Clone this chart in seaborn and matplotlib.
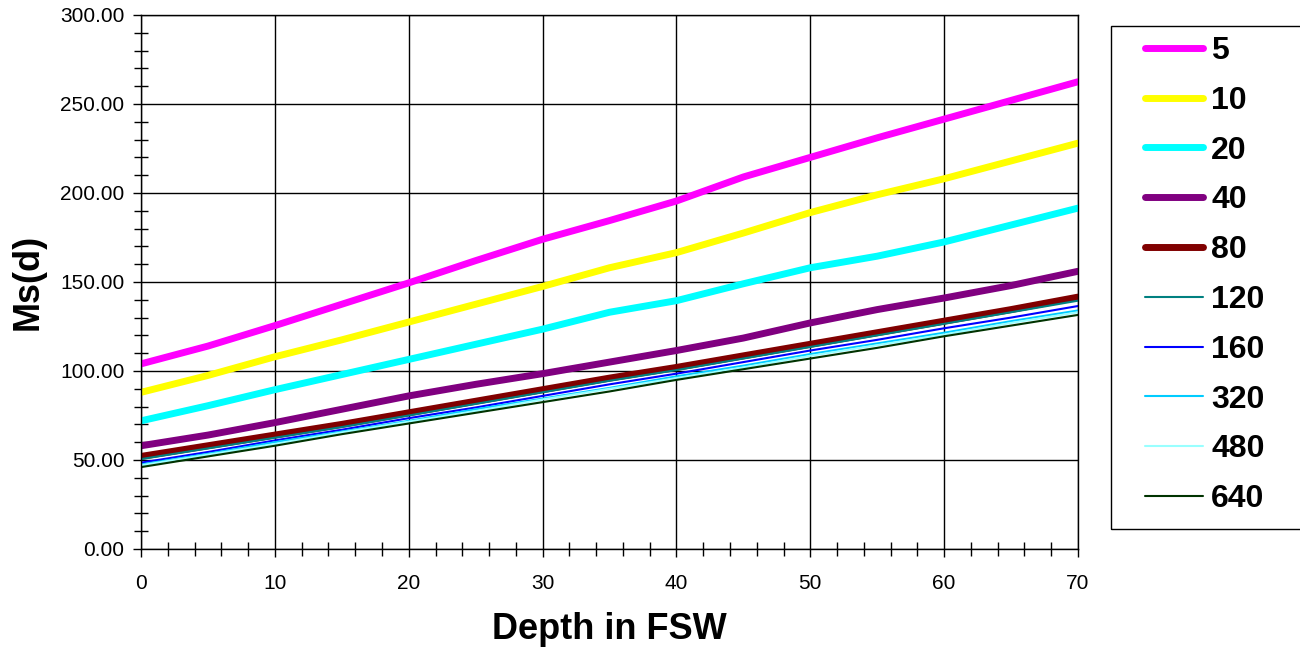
import matplotlib
matplotlib.use("Agg")
import matplotlib.pyplot as plt
import pandas as pd
import seaborn as sns
from matplotlib.patches import Rectangle
from matplotlib.ticker import MultipleLocator, FormatStrFormatter

# depth in feet of sea water
depth = [0, 5, 10, 15, 20, 25, 30, 35, 40, 45, 50, 55, 60, 65, 70]

# Ms(d) per compartment half-time
ms_5 = [104, 114, 125.5, 137.5, 149.5, 162, 174, 184.5, 195.5, 209, 220, 231, 241.5, 252, 262.5]
ms_10 = [88, 97.5, 108, 117.5, 127.5, 137.5, 147.5, 158, 166.5, 177.5, 189, 199, 208, 218, 228]
ms_20 = [72, 80.5, 89.5, 98, 106.5, 115, 123.5, 133, 139.5, 149, 158, 164.5, 172.5, 182, 191.5]
ms_40 = [58, 64, 71, 78.5, 86, 92.5, 98.5, 105, 111.5, 118.5, 127, 134.5, 141, 148, 156]
ms_80 = [52, 58, 64, 70, 76.5, 83, 89.5, 96, 102, 108.5, 115, 121.5, 128, 134.5, 141.5]
ms_120 = [50.5, 56.5, 62.5, 68.5, 75, 81.5, 88, 94.5, 100.5, 107, 113.5, 120, 126.5, 133, 139.5]
ms_160 = [48.5, 54.5, 61, 67, 73.5, 79.5, 86, 92.5, 98.5, 105, 111.5, 117.5, 124, 130, 136.5]
ms_320 = [47.5, 53.5, 60, 66, 72, 78.5, 84.5, 90.5, 97, 103, 109.5, 115.5, 121.5, 128, 134]
ms_480 = [47, 53, 59, 65.5, 71.5, 77.5, 84, 90, 96, 102, 108.5, 114.5, 120.5, 127, 133]
ms_640 = [46, 52, 58, 64.5, 70.5, 76.5, 82.5, 88.5, 95, 101, 107, 113, 119.5, 125.5, 131.5]

half_times = ["5", "10", "20", "40", "80", "120", "160", "320", "480", "640"]
series = [ms_5, ms_10, ms_20, ms_40, ms_80, ms_120, ms_160, ms_320, ms_480, ms_640]
colors = ["#FF00FF", "#FFFF00", "#00FFFF", "#800080", "#800000",
          "#008080", "#0000FF", "#00CCFF", "#99FFFF", "#003300"]
widths = [5, 5, 5, 5, 5, 1.5, 1.5, 1.5, 1.5, 1.5]

rows = []
for label, values in zip(half_times, series):
    for d, v in zip(depth, values):
        rows.append({"depth": d, "ms": v, "half_time": label})
df = pd.DataFrame(rows)

sns.set_style("white")
plt.rcParams["font.family"] = ["Liberation Sans", "DejaVu Sans"]
plt.rcParams["text.color"] = "black"
plt.rcParams["axes.labelcolor"] = "black"
plt.rcParams["xtick.color"] = "black"
plt.rcParams["ytick.color"] = "black"

fig = plt.figure(figsize=(13, 6.49), dpi=100)
ax = fig.add_axes([0.1085, 0.1541, 0.7207, 0.8228])

for label, color, lw in zip(half_times, colors, widths):
    sns.lineplot(data=df[df["half_time"] == label], x="depth", y="ms", color=color,
                 linewidth=lw, label=label, ax=ax, solid_capstyle="round")

ax.set_xlim(0, 70)
ax.set_ylim(0, 300)
ax.xaxis.set_major_locator(MultipleLocator(10))
ax.xaxis.set_minor_locator(MultipleLocator(2))
ax.yaxis.set_major_locator(MultipleLocator(50))
ax.yaxis.set_minor_locator(MultipleLocator(10))
ax.yaxis.set_major_formatter(FormatStrFormatter("%.2f"))
ax.grid(True, which="major", color="black", linewidth=1)
ax.set_axisbelow(True)
ax.tick_params(which="major", direction="out", length=6, width=1, labelsize=15)
ax.tick_params(which="minor", direction="inout", length=10, width=1)
ax.tick_params(axis="x", which="major", pad=12)
ax.tick_params(axis="y", which="major", pad=6)
ax.tick_params(axis="x", which="both", bottom=True)
ax.tick_params(axis="y", which="both", left=True)
for spine in ax.spines.values():
    spine.set_color("black")
    spine.set_linewidth(1)

ax.set_xlabel("Depth in FSW", fontsize=26, fontweight="bold", labelpad=14)
ax.set_ylabel("Ms(d)", fontsize=26, fontweight="bold", labelpad=10)

# legend box reaches the right edge of the image
fig.patches.append(Rectangle((1111 / 1300, 1 - 529 / 649), 0.16, (529 - 26) / 649,
                             transform=fig.transFigure, fill=False,
                             edgecolor="black", linewidth=1))

handles, labels = ax.get_legend_handles_labels()
ax.get_legend().remove()
fig.legend(handles, labels, loc="upper left", bbox_to_anchor=(1145 / 1300, 1 - 36 / 649),
           frameon=False, prop={"size": 23, "weight": "bold"}, handlelength=1.82,
           handletextpad=0.25, labelspacing=0.62, borderpad=0, borderaxespad=0)

fig.savefig("out.png", dpi=100)
